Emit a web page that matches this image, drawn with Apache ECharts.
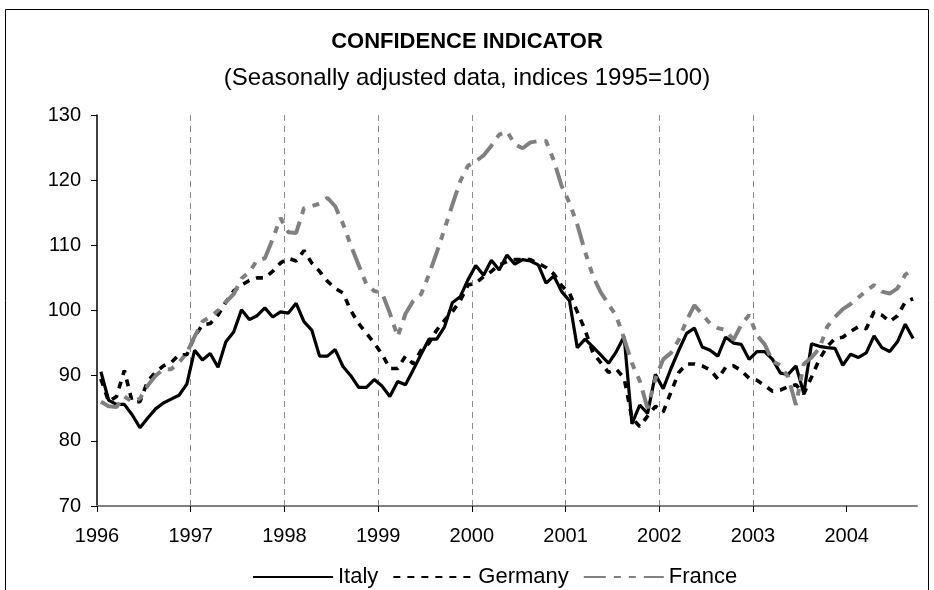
<!DOCTYPE html>
<html>
<head>
<meta charset="utf-8">
<script src="https://cdn.jsdelivr.net/npm/echarts@6/dist/echarts.min.js"></script>
<style>html,body{margin:0;padding:0;background:#fff;}#chart{width:934px;height:590px;}</style>
</head>
<body>
<div id="chart"></div>
<script>
// Monthly data, January 1996 to September 2004 (105 months)
const startYear = 1996;
const yearTicks = ['1996','1997','1998','1999','2000','2001','2002','2003','2004'];
const italy = [
  90.6, 86.2, 85.6, 85.6, 84.0, 82.0, 83.5, 84.9, 85.8, 86.4, 87.0, 88.7,
  93.9, 92.4, 93.4, 91.3, 95.2, 96.7, 100.1, 98.6, 99.2, 100.4, 99.0, 99.8,
  99.6, 101.1, 98.3, 97.0, 93.0, 93.0, 94.0, 91.4, 90.0, 88.2, 88.2, 89.4,
  88.4, 86.8, 89.1, 88.6, 90.9, 93.3, 95.6, 95.6, 97.5, 101.2, 102.1, 104.7,
  106.9, 105.4, 107.7, 106.2, 108.5, 107.1, 107.8, 107.6, 107.0, 104.2, 105.3, 102.9,
  101.5, 94.3, 95.6, 94.4, 93.2, 91.9, 93.7, 96.0, 82.6, 85.5, 84.2, 90.2,
  88.0, 91.1, 93.9, 96.5, 97.3, 94.4, 93.9, 93.0, 95.9, 95.0, 94.8, 92.5,
  93.7, 93.7, 92.5, 90.4, 90.2, 91.5, 87.3, 94.9, 94.5, 94.3, 94.2, 91.6,
  93.3, 92.8, 93.5, 96.1, 94.3, 93.7, 95.2, 97.9, 95.7
];
const germany = [
  89.5, 86.0, 86.8, 90.8, 86.0, 86.0, 89.2, 90.5, 91.5, 92.0, 93.2, 93.2,
  96.0, 97.8, 98.0, 99.3, 101.3, 103.0, 103.9, 104.6, 105.0, 105.0, 106.0, 107.3,
  108.0, 107.6, 109.2, 107.3, 106.0, 104.5, 103.4, 102.7, 100.0, 98.0, 96.5, 95.0,
  93.3, 91.1, 91.1, 93.0, 91.8, 93.9, 95.0, 97.0, 98.5, 99.8, 101.5, 103.9,
  104.2, 105.2, 106.0, 107.0, 107.5, 107.8, 107.8, 107.8, 107.2, 106.6, 105.6, 103.8,
  102.7, 99.8, 97.0, 93.5, 92.0, 90.5, 91.0, 89.6, 83.5, 82.2, 83.8, 85.3,
  84.4, 87.5, 90.5, 91.8, 91.8, 91.5, 90.9, 89.5, 91.3, 91.5, 90.8, 89.6,
  89.3, 88.5, 87.6, 87.8, 88.3, 88.6, 87.2, 89.8, 92.5, 94.5, 95.7, 95.9,
  96.8, 97.5, 97.2, 99.8, 99.3, 98.3, 99.2, 101.3, 101.8
];
const france = [
  86.0, 85.3, 85.2, 86.8, 86.0, 86.5, 88.5, 90.0, 91.0, 91.0, 92.0, 93.5,
  96.0, 98.3, 99.0, 100.0, 101.3, 102.5, 104.9, 105.9, 107.7, 108.0, 111.0, 114.2,
  112.0, 111.9, 115.7, 116.0, 116.4, 117.3, 116.0, 113.3, 110.0, 107.0, 104.0, 103.0,
  102.7, 99.6, 96.0, 99.5, 101.5, 102.5, 105.5, 108.9, 112.5, 116.2, 119.8, 122.2,
  122.9, 123.8, 125.3, 127.0, 127.5, 125.5, 124.9, 125.8, 126.0, 126.0, 123.0, 119.1,
  116.5, 113.2, 109.0, 105.3, 102.8, 101.0, 99.1, 95.7, 91.9, 89.2, 85.0, 89.5,
  92.5, 93.5, 95.5, 98.5, 100.8, 99.4, 98.0, 97.3, 97.0, 95.5, 97.8, 99.3,
  96.2, 94.8, 92.2, 91.6, 89.8, 85.5, 91.8, 92.8, 94.2, 97.5, 99.0, 100.2,
  101.0, 102.0, 103.0, 103.9, 102.9, 102.6, 103.4, 105.5, 106.3
];
const seriesNames = ['Italy', 'Germany', 'France'];

const FONT = 'Liberation Sans, Arial, sans-serif';
const nMonths = italy.length;
const toPoints = arr => arr.map((v, i) => [i + 0.5, v]);
const yearValues = yearTicks.map((y, k) => k * 12);

const chart = echarts.init(document.getElementById('chart'), null, {renderer: 'canvas'});
chart.setOption({
  backgroundColor: '#fff',
  animation: false,
  graphic: [{
    type: 'rect', silent: true, z: -10,
    shape: {x: 5.5, y: 9.5, width: 923, height: 620},
    style: {fill: 'none', stroke: '#000', lineWidth: 1}
  }],
  title: [
    {text: 'CONFIDENCE INDICATOR', left: 'center', top: 26,
     textStyle: {fontFamily: FONT, fontSize: 22, fontWeight: 'bold', color: '#000'}},
    {text: '(Seasonally adjusted data, indices 1995=100)', left: 'center', top: 61,
     textStyle: {fontFamily: FONT, fontSize: 24, fontWeight: 'normal', color: '#000'}}
  ],
  legend: {
    top: 561, left: 247,
    itemWidth: 80, itemHeight: 14, itemGap: 14,
    itemStyle: {opacity: 0},
    textStyle: {fontFamily: FONT, fontSize: 22, color: '#000'},
    data: seriesNames
  },
  grid: {left: 97, right: 17, top: 115, bottom: 84, containLabel: false},
  xAxis: {
    type: 'value', min: 0, max: nMonths, interval: 12,
    axisLine: {show: true, lineStyle: {color: '#808080', width: 2}},
    axisTick: {show: true, length: 6, lineStyle: {color: '#000', width: 1}, customValues: yearValues},
    axisLabel: {
      fontFamily: FONT, fontSize: 20, color: '#000', margin: 20,
      customValues: yearValues,
      formatter: v => yearTicks[Math.round(v / 12)]
    },
    splitLine: {show: true, showMinLine: false, showMaxLine: false,
      lineStyle: {color: '#8c8c8c', width: 1, type: [6, 5]}}
  },
  yAxis: {
    type: 'value', min: 70, max: 130, interval: 10,
    axisLine: {show: true, lineStyle: {color: '#000', width: 1.5}},
    axisTick: {show: true, length: 6, lineStyle: {color: '#000', width: 1}},
    axisLabel: {fontFamily: FONT, fontSize: 20, color: '#000', margin: 16},
    splitLine: {show: false}
  },
  series: [
    {name: 'Italy', type: 'line', data: toPoints(italy), symbol: 'none',
     lineStyle: {color: '#000', width: 3.2}, itemStyle: {color: '#000'}, z: 3},
    {name: 'Germany', type: 'line', data: toPoints(germany), symbol: 'none',
     lineStyle: {color: '#000', width: 3.6, type: [7, 7]}, itemStyle: {color: '#000'}, z: 4},
    {name: 'France', type: 'line', data: toPoints(france), symbol: 'none',
     lineStyle: {color: '#808080', width: 4, type: [22, 8, 7, 8, 7, 8]}, itemStyle: {color: '#808080'}, z: 5}
  ]
});
</script>
</body>
</html>
